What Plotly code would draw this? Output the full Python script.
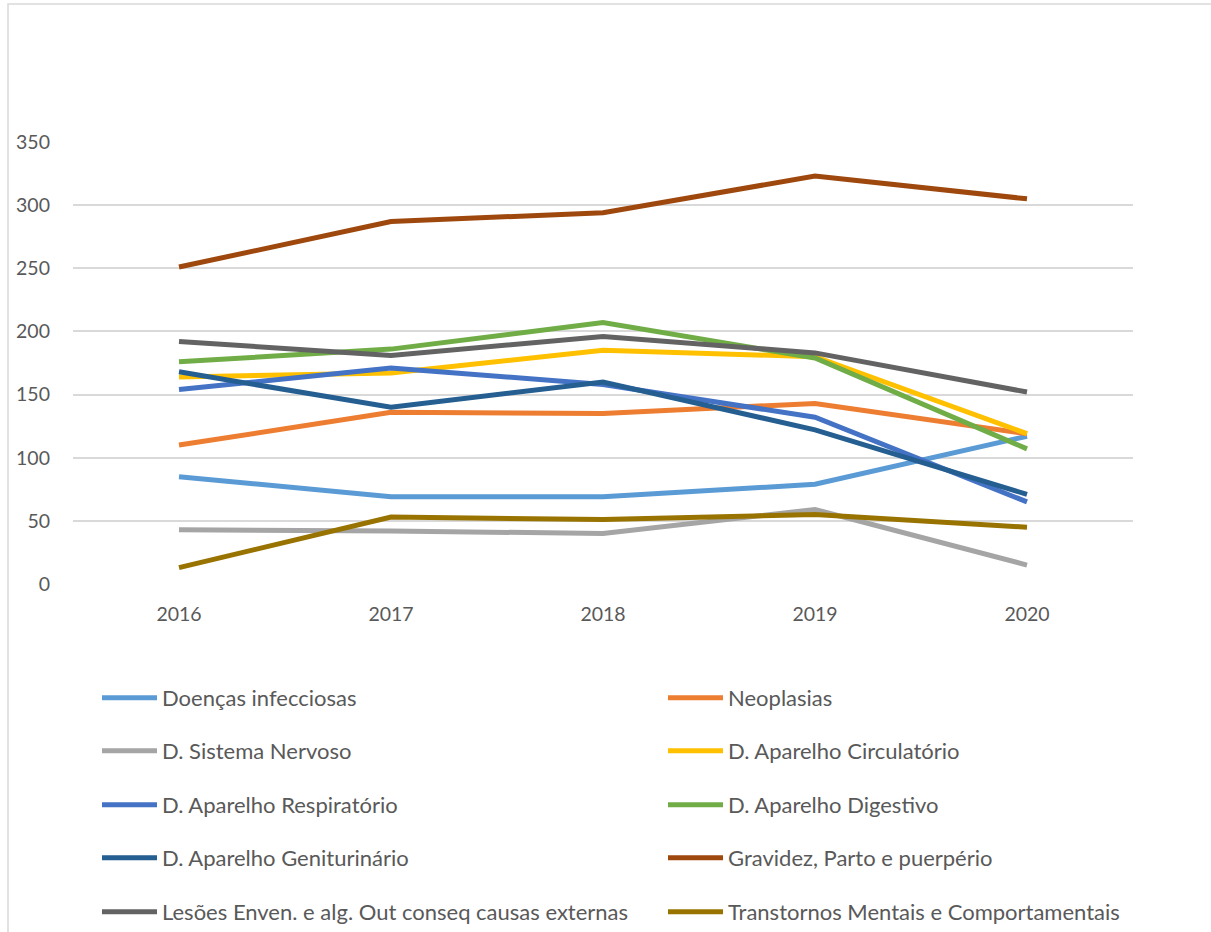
import plotly.graph_objects as go

years = ["2016", "2017", "2018", "2019", "2020"]

doencas_infecciosas = [85, 69, 69, 79, 117]
neoplasias = [110, 136, 135, 143, 119]
sistema_nervoso = [43, 42, 40, 59, 15]
aparelho_circulatorio = [164, 167, 185, 180, 119]
aparelho_respiratorio = [154, 171, 158, 132, 65]
aparelho_digestivo = [176, 186, 207, 179, 107]
aparelho_geniturinario = [168, 140, 160, 122, 71]
gravidez_parto = [251, 287, 294, 323, 305]
lesoes_envenenamento = [192, 181, 196, 183, 152]
transtornos_mentais = [13, 53, 51, 55, 45]

series = [
    ("Doenças infecciosas", doencas_infecciosas, "#5B9BD5"),
    ("Neoplasias", neoplasias, "#ED7D31"),
    ("D. Sistema Nervoso", sistema_nervoso, "#A5A5A5"),
    ("D. Aparelho Circulatório", aparelho_circulatorio, "#FFC000"),
    ("D. Aparelho Respiratório", aparelho_respiratorio, "#4472C4"),
    ("D. Aparelho Digestivo", aparelho_digestivo, "#70AD47"),
    ("D. Aparelho Geniturinário", aparelho_geniturinario, "#255E91"),
    ("Gravidez, Parto e puerpério", gravidez_parto, "#9E480E"),
    ("Lesões Enven. e alg. Out conseq causas externas", lesoes_envenenamento, "#636363"),
    ("Transtornos Mentais e Comportamentais", transtornos_mentais, "#997300"),
]

W, H = 1211, 932
L, R, T, B = 73, 1133, 142, 584
pw, ph = R - L, B - T

def px2x(px):
    return (px - L) / pw

def py2y(py):
    return (B - py) / ph

FONT = "Lato"
TXT = "#595959"

row_y = [698, 751, 805, 858, 912]
col_x = [97, 663]

fig = go.Figure()
layout_legends = {}
for i, (name, vals, col) in enumerate(series):
    key = "legend" if i == 0 else f"legend{i+1}"
    fig.add_trace(go.Scatter(
        x=years, y=vals, name=name, mode="lines",
        line=dict(color=col, width=5),
        legend=key, hoverinfo="x+y+name",
    ))
    layout_legends[key] = dict(
        orientation="v", x=px2x(col_x[i % 2]), xanchor="left",
        y=py2y(row_y[i // 2]), yanchor="middle",
        font=dict(family=FONT, size=22, color=TXT),
        bgcolor="rgba(0,0,0,0)", itemwidth=55,
    )

fig.update_layout(
    width=W, height=H,
    margin=dict(l=L, r=W - R, t=T, b=H - B, autoexpand=False),
    paper_bgcolor="white", plot_bgcolor="white",
    showlegend=True,
    font=dict(family=FONT, size=19, color=TXT),
    xaxis=dict(
        type="category", showgrid=False, zeroline=False,
        showline=False, ticks="", range=[-0.5, 4.5],
        tickfont=dict(family=FONT, size=19.5, color=TXT),
        ticklabelstandoff=16,
    ),
    yaxis=dict(
        range=[0, 350], tickvals=[0, 50, 100, 150, 200, 250, 300, 350],
        showgrid=True, gridcolor="#D9D9D9", gridwidth=1.5,
        zeroline=False, showline=False, ticks="",
        tickfont=dict(family=FONT, size=19.5, color=TXT),
        ticklabelstandoff=22,
    ),
    shapes=[dict(
        type="rect", xref="paper", yref="paper",
        x0=px2x(8), x1=px2x(1230), y0=py2y(960), y1=py2y(4),
        line=dict(color="#D9D9D9", width=1.5), fillcolor="rgba(0,0,0,0)",
        layer="below",
    )],
    **layout_legends,
)

fig.write_html(
    "out.html",
    config={"displayModeBar": False},
    post_script="document.body.style.margin='0';document.body.style.overflow='hidden';",
)
